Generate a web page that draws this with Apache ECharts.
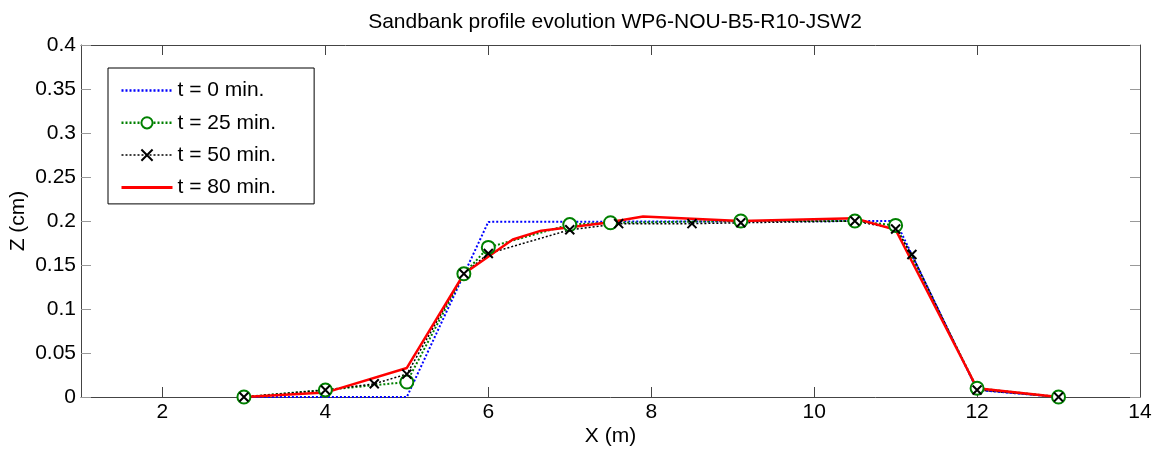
<!DOCTYPE html>
<html>
<head>
<meta charset="utf-8">
<script src="https://cdn.jsdelivr.net/npm/echarts@6/dist/echarts.min.js"></script>
<style>html,body{margin:0;padding:0;background:#fff}#c{width:1161px;height:452px}</style>
</head>
<body>
<div id="c"></div>
<script>
var titleText = 'Sandbank profile evolution WP6-NOU-B5-R10-JSW2';
var seriesNames = ['t = 0 min.', 't = 25 min.', 't = 50 min.', 't = 80 min.'];
var xTicks = [2, 4, 6, 8, 10, 12, 14];
var t0 = [[3, 0], [5, 0], [6, 0.199], [11, 0.2], [12, 0.008], [13, 0]];
var t25 = [[3, 0], [4, 0.008], [5, 0.017], [5.7, 0.14], [6, 0.17], [7, 0.196], [7.5, 0.198], [9.1, 0.2], [10.5, 0.2], [11, 0.195], [12, 0.01], [13, 0]];
var t50 = [[3, 0], [4, 0.008], [4.6, 0.015], [5, 0.026], [5.7, 0.14], [6, 0.163], [7, 0.19], [7.6, 0.197], [8.5, 0.197], [9.1, 0.198], [10.5, 0.2], [11, 0.191], [11.2, 0.162], [12, 0.008], [13, 0]];
var t80 = [[3, 0], [4, 0.005], [5, 0.033], [5.7, 0.14], [6.3, 0.179], [6.65, 0.189], [7, 0.193], [7.45, 0.198], [7.9, 0.205], [9.1, 0.2], [10.5, 0.203], [11, 0.19], [12, 0.01], [13, 0]];

var FONT = 'Liberation Sans, Arial, sans-serif';
var FS = 21;
var axisCol = '#444';
var chart = echarts.init(document.getElementById('c'));
var xBase = {
  type: 'value', min: 1, max: 14,
  axisLine: {show: true, onZero: false, lineStyle: {color: axisCol, width: 1}},
  axisTick: {show: true, inside: true, length: 10, customValues: xTicks, lineStyle: {color: axisCol}},
  splitLine: {show: false}
};
var yBase = {
  type: 'value', min: 0, max: 0.4, interval: 0.05,
  axisLine: {show: true, onZero: false, lineStyle: {color: axisCol, width: 1}},
  axisTick: {show: true, inside: true, length: 10, lineStyle: {color: '#999'}},
  splitLine: {show: false}
};
var xSym = 'path://M0,0L10,10M10,0L0,10';
chart.setOption({
  animation: false,
  backgroundColor: '#fff',
  title: {text: titleText, left: 610, textAlign: 'center', top: 7,
    textStyle: {fontFamily: FONT, fontSize: FS, fontWeight: 'normal', color: '#000'}},
  grid: {left: 81, right: 21, top: 45, bottom: 55, containLabel: false, outerBoundsMode: 'none'},
  legend: {
    orient: 'vertical', left: 108, top: 68,
    backgroundColor: '#fff', borderColor: '#000', borderWidth: 1,
    padding: [12, 38, 6, 12], itemWidth: 51, itemHeight: 14, itemGap: 11.3,
    textStyle: {fontFamily: FONT, fontSize: FS, color: '#000'},
    data: [
      {name: seriesNames[0], itemStyle: {opacity: 0}, lineStyle: {width: 2.5}},
      {name: seriesNames[1], lineStyle: {width: 2.5}},
      {name: seriesNames[2], lineStyle: {width: 1.5}},
      {name: seriesNames[3], itemStyle: {opacity: 0}, lineStyle: {width: 3}}
    ]
  },
  xAxis: [
    Object.assign({}, xBase, {position: 'bottom', name: 'X (m)', nameLocation: 'middle', nameGap: 29,
      nameMoveOverlap: false,
      nameTextStyle: {fontFamily: FONT, fontSize: FS, color: '#000'},
      axisLabel: {show: true, customValues: xTicks, margin: 5, fontFamily: FONT, fontSize: FS, color: '#000'}}),
    Object.assign({}, xBase, {position: 'top', axisLabel: {show: false}})
  ],
  yAxis: [
    Object.assign({}, yBase, {position: 'left', name: 'Z (cm)', nameLocation: 'middle', nameGap: 52,
      nameMoveOverlap: false,
      nameTextStyle: {fontFamily: FONT, fontSize: FS, color: '#000'},
      axisLabel: {show: true, margin: 5, fontFamily: FONT, fontSize: FS, color: '#000'}}),
    Object.assign({}, yBase, {position: 'right', axisLabel: {show: false}})
  ],
  series: [
    {name: seriesNames[0], type: 'line', data: t0, symbol: 'circle', showSymbol: false,
      lineStyle: {color: '#0000ff', width: 2, type: [2, 2]}, itemStyle: {color: '#0000ff'}},
    {name: seriesNames[1], type: 'line', data: t25, symbol: 'emptyCircle', symbolSize: 13,
      lineStyle: {color: '#008000', width: 2, type: [2, 2]},
      itemStyle: {color: '#008000', borderColor: '#008000', borderWidth: 2.2}},
    {name: seriesNames[2], type: 'line', data: t50, symbol: xSym, symbolSize: 9,
      lineStyle: {color: '#000', width: 1.5, type: [2, 2]},
      itemStyle: {color: '#000', borderColor: '#000', borderWidth: 2}},
    {name: seriesNames[3], type: 'line', data: t80, symbol: 'circle', showSymbol: false,
      lineStyle: {color: '#ff0000', width: 2.5}, itemStyle: {color: '#ff0000'}}
  ]
});
</script>
</body>
</html>
